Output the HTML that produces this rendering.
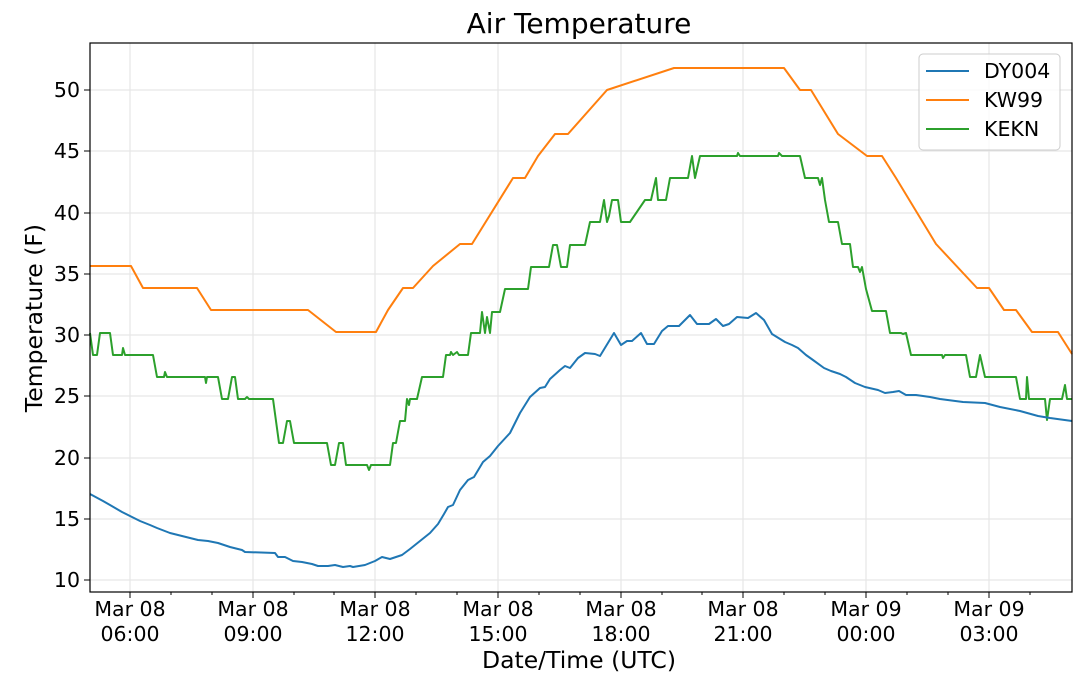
<!DOCTYPE html>
<html><head><meta charset="utf-8"><style>body{margin:0;background:#fff}svg{display:block}text{font-family:"DejaVu Sans","Liberation Sans",sans-serif;fill:#000}</style></head><body>
<svg width="1080" height="683" viewBox="0 0 1080 683" xmlns="http://www.w3.org/2000/svg">
<rect width="1080" height="683" fill="#fff"/>
<g stroke="#e6e6e6" stroke-width="1.2">
<line x1="130" y1="43" x2="130" y2="592"/><line x1="253" y1="43" x2="253" y2="592"/><line x1="375" y1="43" x2="375" y2="592"/><line x1="498" y1="43" x2="498" y2="592"/><line x1="621" y1="43" x2="621" y2="592"/><line x1="743" y1="43" x2="743" y2="592"/><line x1="866" y1="43" x2="866" y2="592"/><line x1="989" y1="43" x2="989" y2="592"/>
<line x1="90" y1="90" x2="1072" y2="90"/><line x1="90" y1="151" x2="1072" y2="151"/><line x1="90" y1="213" x2="1072" y2="213"/><line x1="90" y1="274" x2="1072" y2="274"/><line x1="90" y1="335" x2="1072" y2="335"/><line x1="90" y1="396" x2="1072" y2="396"/><line x1="90" y1="458" x2="1072" y2="458"/><line x1="90" y1="519" x2="1072" y2="519"/><line x1="90" y1="580" x2="1072" y2="580"/>
</g>
<g fill="none" stroke-width="2" stroke-linejoin="round">
<polyline stroke="#ff7f0e" points="90,266 131,266 143,288 197,288 211,310 308,310 336,332 376,332 388,310 403,288 413,288 433,266 460,244 472,244 513,178 525,178 538,156 555,134 568,134 607,90 674,68 784,68 800,90 811,90 838,134 867,156 882,156 896,178 936,244 977,288 989,288 1004,310 1016,310 1032,332 1058,332 1072,354"/>
<polyline stroke="#2ca02c" points="90,333 93,355 97,355 100,333 110,333 113,355 122,355 123,348 125,355 153,355 157,377 164,377 165,372 167,377 205,377 206,383 207,377 218,377 222,399 228,399 232,377 235,377 238,399 245,399 247,397 249,399 273,399 279,443 283,443 287,421 290,421 294,443 327,443 331,465 335,465 339,443 343,443 346,465 367,465 369,470 371,465 390,465 393,443 396,443 400,421 405,421 407,399 409,405 410,399 417,399 422,377 443,377 446,355 450,355 451,352 453,355 457,352 459,355 468,355 471,333 480,333 482,312 485,333 487,317 490,333 492,312 500,312 505,289 528,289 531,267 549,267 553,245 557,245 561,267 567,267 570,245 585,245 590,222 600,222 604,200 607,222 609,216 612,200 618,200 621,222 630,222 645,200 651,200 656,178 658,200 666,200 670,178 688,178 692,156 695,178 700,156 737,156 738,153 740,156 778,156 779,153 782,156 800,156 805,178 818,178 820,185 822,178 825,200 829,222 838,222 842,244 850,244 853,267 858,267 860,272 862,267 866,289 872,311 886,311 890,333 901,333 903,334 906,333 911,355 942,355 943,358 945,355 966,355 970,377 976,377 980,355 985,377 1016,377 1020,399 1026,399 1027,377 1029,399 1045,399 1047,420 1050,399 1062,399 1065,385 1067,399 1072,399"/>
<polyline stroke="#1f77b4" points="90,494 103,501 110,505 122,512 128,515 140,521 150,525 157,528 170,533 198,540 208,541 218,543 230,547 242,550 245,552 275,553 278,557 285,557 293,561 302,562 312,564 318,566 328,566 335,565 343,567 350,566 353,567 365,565 375,561 382,557 390,559 402,555 410,549 420,541 430,533 438,524 444,514 448,507 453,505 460,490 468,480 474,477 483,462 490,456 498,446 510,433 520,413 530,397 540,388 545,387 550,379 560,370 565,366 570,368 578,358 585,353 595,354 600,356 614,333 621,345 627,341 632,341 641,333 647,344 654,344 662,331 668,326 679,326 690,315 697,324 709,324 716,319 723,326 729,324 737,317 748,318 756,313 764,320 772,334 785,342 792,345 798,348 806,355 813,360 824,368 831,371 840,374 846,377 855,383 865,387 878,390 885,393 893,392 899,391 906,395 916,395 930,397 940,399 963,402 985,403 1000,407 1020,411 1038,416 1050,418 1072,421"/>
</g>
<rect x="90" y="43" width="982" height="549" fill="none" stroke="#000" stroke-width="1.2"/>
<g stroke="#000" stroke-width="1">
<line x1="84" y1="90" x2="90" y2="90"/><line x1="84" y1="151" x2="90" y2="151"/><line x1="84" y1="213" x2="90" y2="213"/><line x1="84" y1="274" x2="90" y2="274"/><line x1="84" y1="335" x2="90" y2="335"/><line x1="84" y1="396" x2="90" y2="396"/><line x1="84" y1="458" x2="90" y2="458"/><line x1="84" y1="519" x2="90" y2="519"/><line x1="84" y1="580" x2="90" y2="580"/>
<line x1="130" y1="592" x2="130" y2="598"/><line x1="253" y1="592" x2="253" y2="598"/><line x1="375" y1="592" x2="375" y2="598"/><line x1="498" y1="592" x2="498" y2="598"/><line x1="621" y1="592" x2="621" y2="598"/><line x1="743" y1="592" x2="743" y2="598"/><line x1="866" y1="592" x2="866" y2="598"/><line x1="989" y1="592" x2="989" y2="598"/>
<line x1="171" y1="592" x2="171" y2="595"/><line x1="212" y1="592" x2="212" y2="595"/><line x1="294" y1="592" x2="294" y2="595"/><line x1="334" y1="592" x2="334" y2="595"/><line x1="416" y1="592" x2="416" y2="595"/><line x1="457" y1="592" x2="457" y2="595"/><line x1="539" y1="592" x2="539" y2="595"/><line x1="580" y1="592" x2="580" y2="595"/><line x1="662" y1="592" x2="662" y2="595"/><line x1="702" y1="592" x2="702" y2="595"/><line x1="784" y1="592" x2="784" y2="595"/><line x1="825" y1="592" x2="825" y2="595"/><line x1="907" y1="592" x2="907" y2="595"/><line x1="948" y1="592" x2="948" y2="595"/><line x1="1030" y1="592" x2="1030" y2="595"/>
</g>
<g font-size="20.5" text-anchor="end">
<text x="80" y="97">50</text><text x="80" y="158">45</text><text x="80" y="220">40</text><text x="80" y="281">35</text><text x="80" y="342">30</text><text x="80" y="403">25</text><text x="80" y="465">20</text><text x="80" y="526">15</text><text x="80" y="587">10</text>
</g>
<g font-size="20.5" text-anchor="middle">
<text x="130" y="616">Mar 08</text><text x="130" y="641">06:00</text>
<text x="253" y="616">Mar 08</text><text x="253" y="641">09:00</text>
<text x="375" y="616">Mar 08</text><text x="375" y="641">12:00</text>
<text x="498" y="616">Mar 08</text><text x="498" y="641">15:00</text>
<text x="621" y="616">Mar 08</text><text x="621" y="641">18:00</text>
<text x="743" y="616">Mar 08</text><text x="743" y="641">21:00</text>
<text x="866" y="616">Mar 09</text><text x="866" y="641">00:00</text>
<text x="989" y="616">Mar 09</text><text x="989" y="641">03:00</text>
<text x="579" y="668" font-size="23.5">Date/Time (UTC)</text>
<text x="579" y="33" font-size="28">Air Temperature</text>
</g>
<text transform="translate(42,318) rotate(-90)" font-size="23.5" text-anchor="middle">Temperature (F)</text>
<rect x="919" y="54" width="141" height="96" rx="4" fill="#fff" fill-opacity="0.8" stroke="#ccc"/>
<line x1="926" y1="71" x2="969" y2="71" stroke="#1f77b4" stroke-width="2"/>
<line x1="926" y1="100" x2="969" y2="100" stroke="#ff7f0e" stroke-width="2"/>
<line x1="926" y1="129" x2="969" y2="129" stroke="#2ca02c" stroke-width="2"/>
<g font-size="20.5"><text x="984" y="78">DY004</text><text x="984" y="107">KW99</text><text x="984" y="136">KEKN</text></g>
</svg>
</body></html>
